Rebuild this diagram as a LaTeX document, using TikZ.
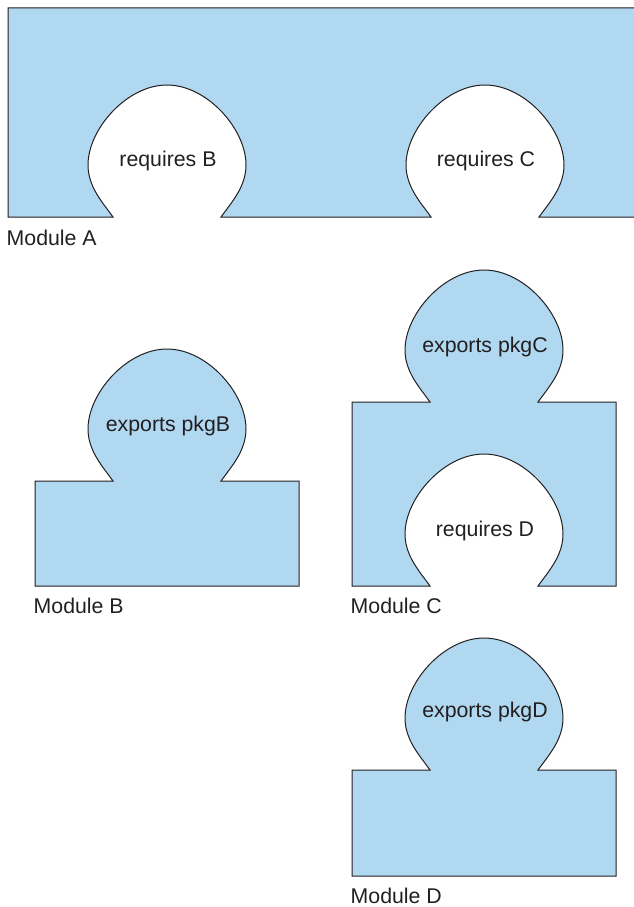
\documentclass[tikz,border=0pt]{standalone}
\usepackage{fontspec}
\setmainfont{Liberation Sans}
\definecolor{modfill}{HTML}{B1D8F1}
\definecolor{modline}{HTML}{231F20}
% lobe: center x, base y (pixel coords, y downward)
\newcommand\lobepath[2]{-- (#1-54,#2) .. controls (#1-64,#2-14) and (#1-79,#2-30) .. (#1-79,#2-52) .. controls (#1-79,#2-88) and (#1-40,#2-132) .. (#1,#2-132) .. controls (#1+40,#2-132) and (#1+79,#2-88) .. (#1+79,#2-52) .. controls (#1+79,#2-30) and (#1+64,#2-14) .. (#1+54,#2)}
\newcommand\lobepathRL[2]{-- (#1+54,#2) .. controls (#1+64,#2-14) and (#1+79,#2-30) .. (#1+79,#2-52) .. controls (#1+79,#2-88) and (#1+40,#2-132) .. (#1,#2-132) .. controls (#1-40,#2-132) and (#1-79,#2-88) .. (#1-79,#2-52) .. controls (#1-79,#2-30) and (#1-64,#2-14) .. (#1-54,#2)}
\begin{document}
\begin{tikzpicture}[x=1pt,y=-1pt,
  modshape/.style={fill=modfill,draw=modline,line width=1pt,line join=miter},
  lobetext/.style={anchor=base,inner sep=0pt,text=modline,font=\fontsize{21.3}{25}\selectfont},
  modlabel/.style={anchor=base west,inner sep=0pt,text=modline,font=\fontsize{21.3}{25}\selectfont}]
\useasboundingbox (0,0) rectangle (634,907);
% Module A
\fill[modfill] (8,8) -- (8,217) \lobepath{167}{217} \lobepath{485}{217} -- (634,217) -- (634,8) -- cycle;
\draw[modline,line width=1pt] (634,8) -- (8,8) -- (8,217) \lobepath{167}{217} \lobepath{485}{217} -- (634,217);
\node[lobetext] (reqB) at (168,166) {requires B};
\node[lobetext] (reqC) at (486,166) {requires C};
\node[modlabel] (modA) at (6.5,245.5) {Module A};
% Module B
\draw[modshape] (35,481) \lobepath{167}{481} -- (299,481) -- (299,586) -- (35,586) -- cycle;
\node[lobetext] (expB) at (168,431) {exports pkgB};
\node[modlabel] (modB) at (33.5,613.5) {Module B};
% Module C
\draw[modshape] (352,402) \lobepath{484}{402} -- (616,402) -- (616,586) \lobepathRL{484}{586} -- (352,586) -- cycle;
\node[lobetext] (expC) at (485,352) {exports pkgC};
\node[lobetext] (reqD) at (485,536.5) {requires D};
\node[modlabel] (modC) at (350.5,613) {Module C};
% Module D
\draw[modshape] (352,770) \lobepath{484}{770} -- (616,770) -- (616,876) -- (352,876) -- cycle;
\node[lobetext] (expD) at (485,717) {exports pkgD};
\node[modlabel] (modD) at (350.5,903) {Module D};
\end{tikzpicture}
\end{document}
